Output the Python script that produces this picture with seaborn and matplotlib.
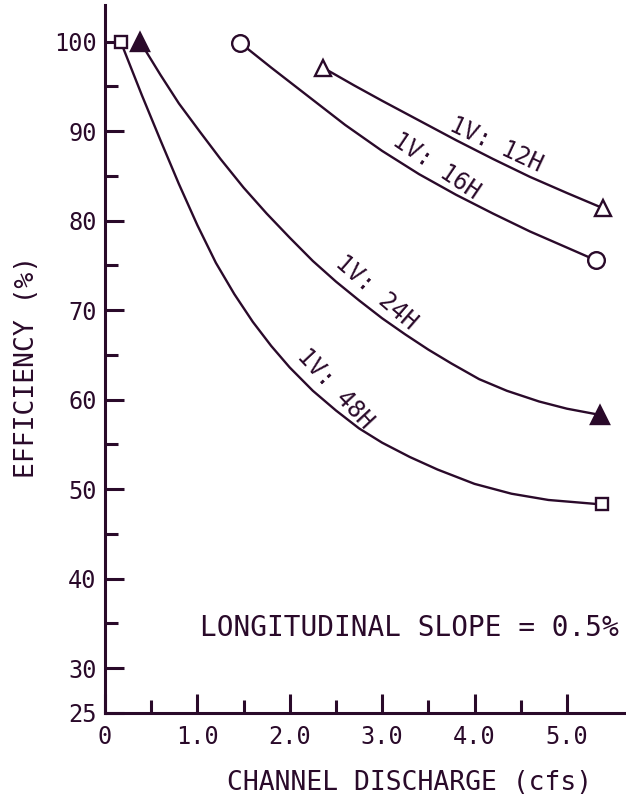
import numpy as np
import pandas as pd
import seaborn as sns
import matplotlib
matplotlib.use("Agg")
import matplotlib.pyplot as plt

ink = "#2a0a2a"

# valores (vazao em cfs, eficiencia em %)
q_12 = [2.36, 2.70, 3.00, 3.40, 3.80, 4.20, 4.60, 5.00, 5.39]
e_12 = [97.1, 95.1, 93.4, 91.2, 89.0, 86.9, 84.9, 83.1, 81.4]

q_16 = [1.46, 1.80, 2.20, 2.60, 3.00, 3.40, 3.80, 4.20, 4.60, 5.00, 5.31]
e_16 = [99.9, 97.1, 93.9, 90.7, 87.8, 85.2, 82.9, 80.8, 78.8, 77.0, 75.6]

q_24 = [0.38, 0.60, 0.80, 1.03, 1.25, 1.50, 1.75, 2.00, 2.25, 2.50, 2.75, 3.00,
        3.25, 3.50, 3.75, 4.05, 4.35, 4.70, 5.00, 5.36]
e_24 = [100.0, 96.3, 93.1, 89.9, 86.9, 83.7, 80.8, 78.1, 75.5, 73.2, 71.1, 69.1,
        67.3, 65.6, 64.05, 62.3, 61.0, 59.8, 59.0, 58.3]

q_48 = [0.17, 0.40, 0.60, 0.80, 1.00, 1.20, 1.40, 1.60, 1.80, 2.00, 2.25, 2.50,
        2.75, 3.00, 3.30, 3.60, 4.00, 4.40, 4.80, 5.38]
e_48 = [100.0, 94.0, 89.0, 84.1, 79.5, 75.3, 71.8, 68.7, 66.0, 63.6, 61.0, 58.8,
        56.8, 55.2, 53.6, 52.2, 50.6, 49.5, 48.8, 48.3]

slopes = ["1V: 12H", "1V: 16H", "1V: 24H", "1V: 48H"]
label_x = [4.23, 3.59, 2.94, 2.49]
label_y = [88.5, 86.1, 72.0, 61.2]
label_rot = [-25, -34, -41, -47]

x_ticks = [0, 1, 2, 3, 4, 5]
x_ticklabels = ["0", "1.0", "2.0", "3.0", "4.0", "5.0"]
x_minor = [0.5, 1.5, 2.5, 3.5, 4.5]
y_ticks = [25, 30, 40, 50, 60, 70, 80, 90, 100]
y_ticklabels = ["25", "30", "40", "50", "60", "70", "80", "90", "100"]
y_minor = [35, 45, 55, 65, 75, 85, 95]

series = [
    (q_12, e_12, "^", "white", 12),
    (q_16, e_16, "o", "white", 12),
    (q_24, e_24, "^", ink, 13),
    (q_48, e_48, "s", "white", 9),
]

sns.set_style("ticks")
plt.rcParams["font.family"] = ["DejaVu Sans Mono", "DejaVu Sans"]

fig = plt.figure(figsize=(6.26, 7.98), dpi=100)
ax = fig.add_axes([105 / 626, 85 / 798, 521 / 626, 708 / 798])

for (q, e, mk, fc, ms), nome in zip(series, slopes):
    df = pd.DataFrame({"q": q, "e": e})
    sns.lineplot(data=df, x="q", y="e", ax=ax, color=ink, lw=1.7, sort=False,
                 marker=mk, markevery=[0, len(q) - 1], markersize=ms,
                 markerfacecolor=fc, markeredgecolor=ink, markeredgewidth=1.7,
                 clip_on=False)

for nome, lx, ly, rot in zip(slopes, label_x, label_y, label_rot):
    ax.text(lx, ly, nome, rotation=rot, rotation_mode="anchor", ha="center", va="center",
            fontsize=17, color=ink)

ax.text(3.29, 34.5, "LONGITUDINAL SLOPE = 0.5%", ha="center", va="center", fontsize=20, color=ink)

ax.set_xlim(0, 5.64)
ax.set_ylim(25, 104.1)
ax.set_xticks(x_ticks, labels=x_ticklabels)
ax.set_xticks(x_minor, minor=True)
ax.set_yticks(y_ticks, labels=y_ticklabels)
ax.set_yticks(y_minor, minor=True)

ax.tick_params(which="both", direction="in", width=2.2, color=ink, labelcolor=ink, labelsize=17)
ax.tick_params(which="major", length=14)
ax.tick_params(which="minor", length=9.5)
ax.tick_params(axis="y", pad=6)
ax.tick_params(axis="x", pad=9)

sns.despine(ax=ax)
for s in ["left", "bottom"]:
    ax.spines[s].set_linewidth(2.2)
    ax.spines[s].set_color(ink)

ax.set_xlabel("CHANNEL DISCHARGE (cfs)", fontsize=19, color=ink)
ax.set_ylabel("EFFICIENCY (%)", fontsize=19, color=ink)
ax.xaxis.set_label_coords(0.585, -0.08)
ax.yaxis.set_label_coords(-0.124, 0.489)

fig.savefig("out.png", dpi=100)
